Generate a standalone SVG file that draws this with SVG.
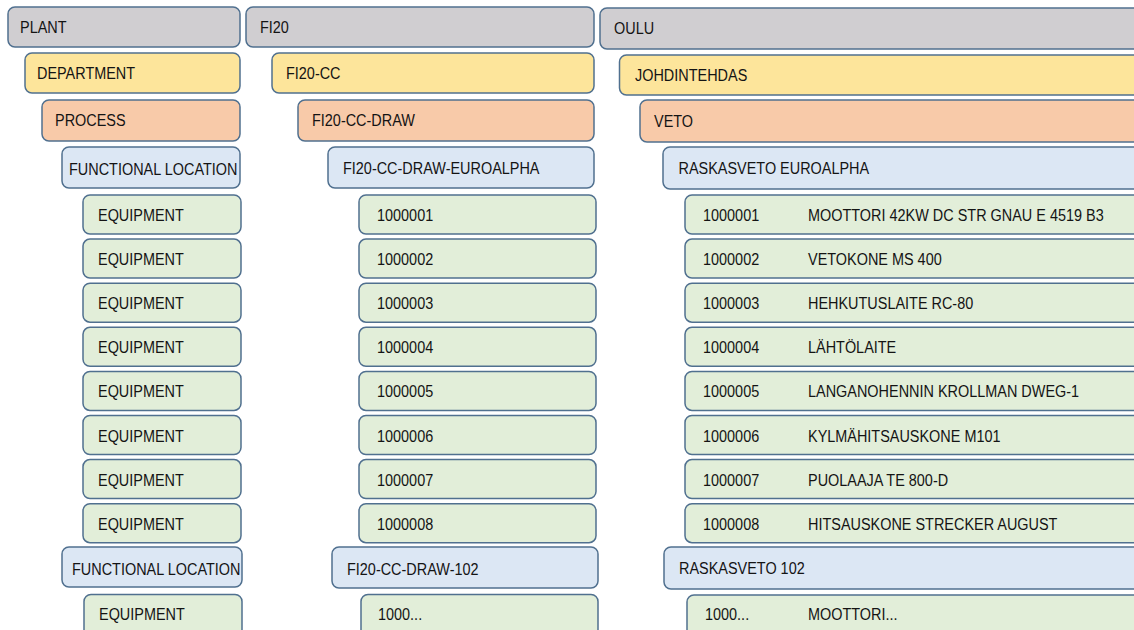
<svg xmlns="http://www.w3.org/2000/svg" width="1134" height="630" viewBox="0 0 1134 630">
<style>
rect{stroke:#50708f;stroke-width:1.5}
.plant rect{fill:#d0ced1}
.dept rect{fill:#fde59b}
.proc rect{fill:#f8caa9}
.floc rect{fill:#dce7f4}
.equip rect{fill:#e2eed9}
text{font-family:"Liberation Sans",Arial,sans-serif;font-size:16.5px;fill:#141414}
</style>
<rect x="0" y="0" width="1134" height="630" fill="#ffffff" style="stroke:none"/>
<g id="connectors"/>
<!-- Column 1 -->
<g id="plant-label" class="plant"><rect x="8" y="7" width="232" height="40" rx="7"/><text transform="matrix(.875 0 0 1 20 32.5)">PLANT</text></g>
<g id="department-label" class="dept"><rect x="25" y="53" width="215" height="40" rx="7"/><text transform="matrix(.875 0 0 1 37 78.5)">DEPARTMENT</text></g>
<g id="process-label" class="proc"><rect x="42" y="100" width="198" height="41" rx="7"/><text transform="matrix(.875 0 0 1 55 126)">PROCESS</text></g>
<g id="floc-label-1" class="floc"><rect x="62" y="147" width="178" height="41" rx="7"/><text transform="matrix(.875 0 0 1 69 174.5)">FUNCTIONAL LOCATION</text></g>
<g id="equip-label-1" class="equip"><rect x="83" y="195" width="158" height="39" rx="7"/><text transform="matrix(.875 0 0 1 98 221)">EQUIPMENT</text></g>
<g id="equip-label-2" class="equip"><rect x="83" y="239.1" width="158" height="39" rx="7"/><text transform="matrix(.875 0 0 1 98 265.1)">EQUIPMENT</text></g>
<g id="equip-label-3" class="equip"><rect x="83" y="283.2" width="158" height="39" rx="7"/><text transform="matrix(.875 0 0 1 98 309.2)">EQUIPMENT</text></g>
<g id="equip-label-4" class="equip"><rect x="83" y="327.3" width="158" height="39" rx="7"/><text transform="matrix(.875 0 0 1 98 353.3)">EQUIPMENT</text></g>
<g id="equip-label-5" class="equip"><rect x="83" y="371.4" width="158" height="39" rx="7"/><text transform="matrix(.875 0 0 1 98 397.4)">EQUIPMENT</text></g>
<g id="equip-label-6" class="equip"><rect x="83" y="415.5" width="158" height="39" rx="7"/><text transform="matrix(.875 0 0 1 98 441.5)">EQUIPMENT</text></g>
<g id="equip-label-7" class="equip"><rect x="83" y="459.6" width="158" height="39" rx="7"/><text transform="matrix(.875 0 0 1 98 485.6)">EQUIPMENT</text></g>
<g id="equip-label-8" class="equip"><rect x="83" y="503.7" width="158" height="39" rx="7"/><text transform="matrix(.875 0 0 1 98 529.7)">EQUIPMENT</text></g>
<g id="floc-label-2" class="floc"><rect x="62" y="547" width="180" height="40" rx="7"/><text transform="matrix(.875 0 0 1 72 574.5)">FUNCTIONAL LOCATION</text></g>
<g id="equip-label-9" class="equip"><rect x="84" y="594.5" width="158" height="42" rx="7"/><text transform="matrix(.875 0 0 1 99 620)">EQUIPMENT</text></g>
<!-- Column 2 -->
<g id="fi20" class="plant"><rect x="246" y="7" width="348" height="40" rx="7"/><text transform="matrix(.875 0 0 1 260 32.5)">FI20</text></g>
<g id="fi20-cc" class="dept"><rect x="272" y="53" width="322" height="40" rx="7"/><text transform="matrix(.875 0 0 1 286 78.5)">FI20-CC</text></g>
<g id="fi20-cc-draw" class="proc"><rect x="298" y="100" width="296" height="41" rx="7"/><text transform="matrix(.875 0 0 1 312 126)">FI20-CC-DRAW</text></g>
<g id="fi20-cc-draw-euroalpha" class="floc"><rect x="328" y="147" width="266" height="41" rx="7"/><text transform="matrix(.875 0 0 1 343 173.5)">FI20-CC-DRAW-EUROALPHA</text></g>
<g id="fi20-eq-1" class="equip"><rect x="359" y="195" width="237" height="39" rx="7"/><text transform="matrix(.875 0 0 1 377 221)">1000001</text></g>
<g id="fi20-eq-2" class="equip"><rect x="359" y="239.1" width="237" height="39" rx="7"/><text transform="matrix(.875 0 0 1 377 265.1)">1000002</text></g>
<g id="fi20-eq-3" class="equip"><rect x="359" y="283.2" width="237" height="39" rx="7"/><text transform="matrix(.875 0 0 1 377 309.2)">1000003</text></g>
<g id="fi20-eq-4" class="equip"><rect x="359" y="327.3" width="237" height="39" rx="7"/><text transform="matrix(.875 0 0 1 377 353.3)">1000004</text></g>
<g id="fi20-eq-5" class="equip"><rect x="359" y="371.4" width="237" height="39" rx="7"/><text transform="matrix(.875 0 0 1 377 397.4)">1000005</text></g>
<g id="fi20-eq-6" class="equip"><rect x="359" y="415.5" width="237" height="39" rx="7"/><text transform="matrix(.875 0 0 1 377 441.5)">1000006</text></g>
<g id="fi20-eq-7" class="equip"><rect x="359" y="459.6" width="237" height="39" rx="7"/><text transform="matrix(.875 0 0 1 377 485.6)">1000007</text></g>
<g id="fi20-eq-8" class="equip"><rect x="359" y="503.7" width="237" height="39" rx="7"/><text transform="matrix(.875 0 0 1 377 529.7)">1000008</text></g>
<g id="fi20-cc-draw-102" class="floc"><rect x="332" y="547" width="266" height="41" rx="7"/><text transform="matrix(.875 0 0 1 347 574.5)">FI20-CC-DRAW-102</text></g>
<g id="fi20-eq-9" class="equip"><rect x="361" y="594.5" width="237" height="42" rx="7"/><text transform="matrix(.875 0 0 1 378 620)">1000...</text></g>
<!-- Column 3 -->
<g id="oulu" class="plant"><rect x="600" y="8" width="550" height="41" rx="7"/><text transform="matrix(.875 0 0 1 614 34)">OULU</text></g>
<g id="johdintehdas" class="dept"><rect x="619.5" y="55" width="531" height="40" rx="7"/><text transform="matrix(.875 0 0 1 635 80.5)">JOHDINTEHDAS</text></g>
<g id="veto" class="proc"><rect x="640" y="100" width="510" height="42" rx="7"/><text transform="matrix(.875 0 0 1 654 126.5)">VETO</text></g>
<g id="raskasveto-euroalpha" class="floc"><rect x="663" y="147" width="490" height="42" rx="7"/><text transform="matrix(.875 0 0 1 678.5 174)">RASKASVETO EUROALPHA</text></g>
<g id="oulu-eq-1" class="equip"><rect x="685" y="195" width="470" height="39" rx="7"/><text transform="matrix(.875 0 0 1 703 221)">1000001</text><text transform="matrix(.875 0 0 1 808 221)">MOOTTORI 42KW DC STR GNAU E 4519 B3</text></g>
<g id="oulu-eq-2" class="equip"><rect x="685" y="239.1" width="470" height="39" rx="7"/><text transform="matrix(.875 0 0 1 703 265.1)">1000002</text><text transform="matrix(.875 0 0 1 808 265.1)">VETOKONE MS 400</text></g>
<g id="oulu-eq-3" class="equip"><rect x="685" y="283.2" width="470" height="39" rx="7"/><text transform="matrix(.875 0 0 1 703 309.2)">1000003</text><text transform="matrix(.875 0 0 1 808 309.2)">HEHKUTUSLAITE RC-80</text></g>
<g id="oulu-eq-4" class="equip"><rect x="685" y="327.3" width="470" height="39" rx="7"/><text transform="matrix(.875 0 0 1 703 353.3)">1000004</text><text transform="matrix(.875 0 0 1 808 353.3)">LÄHTÖLAITE</text></g>
<g id="oulu-eq-5" class="equip"><rect x="685" y="371.4" width="470" height="39" rx="7"/><text transform="matrix(.875 0 0 1 703 397.4)">1000005</text><text transform="matrix(.875 0 0 1 808 397.4)">LANGANOHENNIN KROLLMAN DWEG-1</text></g>
<g id="oulu-eq-6" class="equip"><rect x="685" y="415.5" width="470" height="39" rx="7"/><text transform="matrix(.875 0 0 1 703 441.5)">1000006</text><text transform="matrix(.875 0 0 1 808 441.5)">KYLMÄHITSAUSKONE M101</text></g>
<g id="oulu-eq-7" class="equip"><rect x="685" y="459.6" width="470" height="39" rx="7"/><text transform="matrix(.875 0 0 1 703 485.6)">1000007</text><text transform="matrix(.875 0 0 1 808 485.6)">PUOLAAJA TE 800-D</text></g>
<g id="oulu-eq-8" class="equip"><rect x="685" y="503.7" width="470" height="39" rx="7"/><text transform="matrix(.875 0 0 1 703 529.7)">1000008</text><text transform="matrix(.875 0 0 1 808 529.7)">HITSAUSKONE STRECKER AUGUST</text></g>
<g id="raskasveto-102" class="floc"><rect x="664" y="547" width="490" height="42" rx="7"/><text transform="matrix(.875 0 0 1 679 573.5)">RASKASVETO 102</text></g>
<g id="oulu-eq-9" class="equip"><rect x="687" y="595" width="470" height="42" rx="7"/><text transform="matrix(.875 0 0 1 705 619.5)">1000...</text><text transform="matrix(.875 0 0 1 808 619.5)">MOOTTORI...</text></g>
</svg>
